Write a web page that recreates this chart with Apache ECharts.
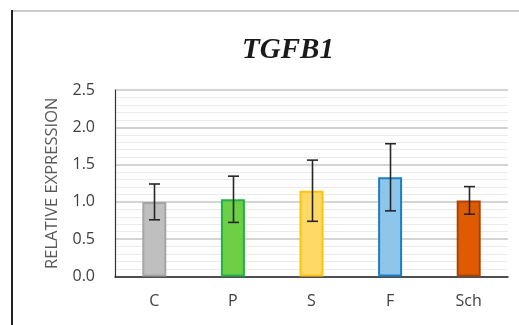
<!DOCTYPE html>
<html><head><meta charset="utf-8">
<script src="https://cdn.jsdelivr.net/npm/echarts@6/dist/echarts.min.js"></script>
<style>html,body{margin:0;padding:0;background:#fff}#c{width:519px;height:325px}</style>
</head><body><div id="c"></div>
<script>
var categories = ['C', 'P', 'S', 'F', 'Sch'];
var means = [1.00, 1.035, 1.15, 1.33, 1.02];
var errors = [0.24, 0.31, 0.41, 0.45, 0.185];
var fills = ['#bfbfbf', '#6ccf45', '#ffd966', '#8ec5ea', '#e05b00'];
var borders = ['#a5a5a5', '#22b04a', '#ffc20e', '#1a7fc9', '#a9430a'];
var yTicks = ['0.0', '0.5', '1.0', '1.5', '2.0', '2.5'];

var chart = echarts.init(document.getElementById('c'));
chart.setOption({
  animation: false,
  title: {
    text: 'TGFB1', left: 283, textAlign: 'center', top: 31,
    textStyle: { fontFamily: 'Liberation Serif', fontStyle: 'italic', fontWeight: 'bold', fontSize: 29, color: '#1a1a1a' }
  },
  graphic: [
    { type: 'line', shape: { x1: 12, y1: 11, x2: 519, y2: 11 }, style: { stroke: '#b8b8b8', lineWidth: 1.5 } },
    { type: 'line', shape: { x1: 12, y1: 10, x2: 12, y2: 325 }, style: { stroke: '#222', lineWidth: 2 } }
  ],
  grid: { left: 115, right: 11, top: 90, bottom: 48.5 },
  xAxis: {
    type: 'category', data: categories,
    axisLine: { lineStyle: { color: '#222', width: 1.5 } },
    axisTick: { show: false },
    axisLabel: { color: '#404040', fontSize: 16, fontFamily: 'Open Sans', margin: 17 }
  },
  yAxis: {
    type: 'value', min: 0, max: 2.5, interval: 0.5,
    name: 'RELATIVE EXPRESSION', nameLocation: 'middle', nameGap: 54,
    nameTextStyle: { color: '#595959', fontSize: 16.5, fontFamily: 'Open Sans' },
    axisLine: { show: true, lineStyle: { color: '#333', width: 1.2 } },
    axisTick: { show: false },
    axisLabel: { color: '#404040', fontSize: 16, fontFamily: 'Open Sans', margin: 20,
      formatter: function (v) { return yTicks[Math.round(v / 0.5)]; } },
    splitLine: { lineStyle: { color: '#c6c6c6', width: 1.5 } },
    minorTick: { show: false, splitNumber: 5 },
    minorSplitLine: { show: true, lineStyle: { color: '#ebebeb', width: 1.2 } }
  },
  series: [
    {
      type: 'bar', barWidth: 24,
      data: means.map(function (v, i) {
        return { value: v, itemStyle: { color: fills[i], borderColor: borders[i], borderWidth: 2 } };
      })
    },
    {
      type: 'custom', z: 10,
      data: means.map(function (v, i) { return [i, v - errors[i], v + errors[i]]; }),
      renderItem: function (params, api) {
        var lo = api.coord([api.value(0), api.value(1)]);
        var hi = api.coord([api.value(0), api.value(2)]);
        var x = Math.round(lo[0]) + 0.5, h = 5.5;
        var st = { stroke: '#262626', lineWidth: 1.6 };
        return { type: 'group', children: [
          { type: 'line', shape: { x1: x, y1: lo[1], x2: x, y2: hi[1] }, style: st },
          { type: 'line', shape: { x1: x - h, y1: lo[1], x2: x + h, y2: lo[1] }, style: st },
          { type: 'line', shape: { x1: x - h, y1: hi[1], x2: x + h, y2: hi[1] }, style: st }
        ] };
      }
    }
  ]
});
</script></body></html>
